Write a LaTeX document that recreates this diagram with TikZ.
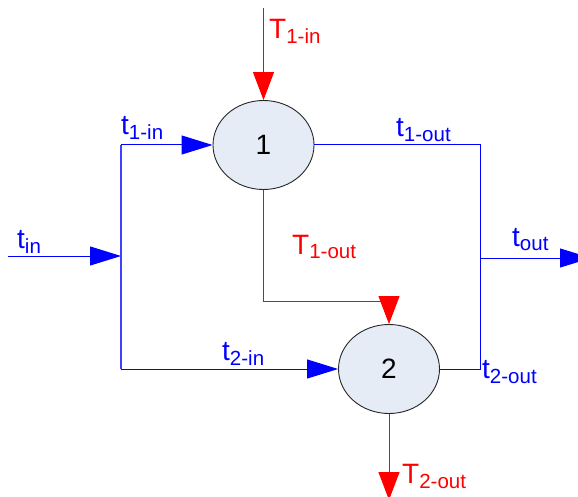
\documentclass[tikz,border=0pt]{standalone}
\usepackage{fontspec}
\setmainfont{Liberation Sans}
\usetikzlibrary{arrows.meta,shapes.geometric}
\definecolor{procfill}{RGB}{230,236,246}
\newcommand\mylbl[2]{{\fontsize{28}{28}\selectfont #1}\raisebox{-5pt}{\fontsize{20.5}{20.5}\selectfont #2}}
\begin{document}
\begin{tikzpicture}[x=1pt,y=-1pt,
  proc/.style={ellipse,draw=black!85,line width=0.9pt,fill=procfill,minimum width=101pt,minimum height=89pt,inner sep=0pt,font=\fontsize{28}{28}\selectfont},
  redline/.style={red,line width=1pt},
  blueline/.style={blue,line width=1pt},
  redarrow/.style={redline,-{Triangle[length=28pt,width=21pt]}},
  bluearrow/.style={blueline,-{Triangle[length=31pt,width=19pt]}},
  lbl/.style={anchor=base west,inner sep=0pt}]
\useasboundingbox (0,0) rectangle (578,497);
\node[proc] (p1) at (263.5,145) {1};
\node[proc] (p2) at (389,369) {2};
% red flows
\coordinate (T1top) at (263.5,8);
\coordinate (r1) at (263.5,301);
\coordinate (T2bot) at (389,500);
\draw[redarrow] (T1top) -- (p1.north);
\draw[redarrow] (p1.south) -- (r1) -| (p2.north);
\draw[redarrow] (p2.south) -- (T2bot);
% blue flows
\coordinate (tinstart) at (8,256);
\coordinate (j) at (121,256);
\coordinate (jt) at (121,145);
\coordinate (jb) at (121,369);
\coordinate (rt) at (480,145);
\coordinate (rb) at (480,369);
\coordinate (jo) at (480,258);
\coordinate (toutend) at (591,258);
\draw[bluearrow] (tinstart) -- (j);
\draw[blueline,line width=1.4pt,blue!75!white] (jt) -- (jb);
\draw[bluearrow] (jt) -- (p1.west);
\draw[bluearrow] (jb) -- (p2.west);
\draw[blueline] (p1.east) -- (rt) -- (rb) -- (p2.east);
\draw[bluearrow] (jo) -- (toutend);
% labels
\node[lbl,red] (lT1in) at (269,39) {\mylbl{T}{1-in}};
\node[lbl,red] (lT1out) at (292,254) {\mylbl{T}{1-out}};
\node[lbl,red] (lT2out) at (402,483) {\mylbl{T}{2-out}};
\node[lbl,blue] (lt1in) at (121,135) {\mylbl{t}{1-in}};
\node[lbl,blue] (ltin) at (17,248) {\mylbl{t}{in}};
\node[lbl,blue] (lt2in) at (222,360) {\mylbl{t}{2-in}};
\node[lbl,blue] (lt1out) at (396,137) {\mylbl{t}{1-out}};
\node[lbl,blue] (ltout) at (512,246) {\mylbl{t}{out}};
\node[lbl,blue] (lt2out) at (482,378) {\mylbl{t}{2-out}};
\end{tikzpicture}
\end{document}
